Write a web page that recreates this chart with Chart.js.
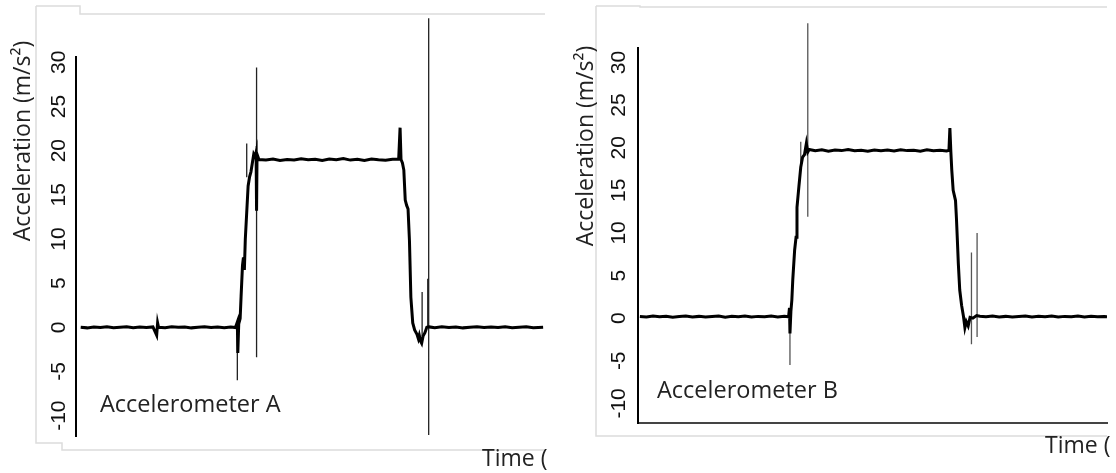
<!DOCTYPE html>
<html>
<head>
<meta charset="utf-8">
<script src="https://cdn.jsdelivr.net/npm/chart.js@4.4.1/dist/chart.umd.min.js"></script>
<style>
  html, body { margin: 0; padding: 0; background: #fff; }
  #wrap { position: relative; width: 1116px; height: 473px; overflow: hidden; }
  canvas { position: absolute; top: 0; }
  #chartA { left: 0; }
  #chartB { left: 558px; }
</style>
</head>
<body>
<div id="wrap">
  <canvas id="chartA" width="558" height="473"></canvas>
  <canvas id="chartB" width="558" height="473"></canvas>
</div>
<script>
"use strict";

// y axis tick labels (m/s^2)
var yTicks = [-10, -5, 0, 5, 10, 15, 20, 25, 30];

// Accelerometer A - main trace
var timeA = [
    0.10, 0.24, 0.38, 0.52, 0.66, 0.80, 0.94, 1.08, 1.22, 1.36, 1.50, 1.64, 1.72, 1.74, 1.76,
    1.90, 2.04, 2.18, 2.32, 2.46, 2.60, 2.74, 2.88, 3.02, 3.16, 3.30, 3.40, 3.44, 3.45, 3.47,
    3.50, 3.52, 3.55, 3.57, 3.59, 3.61, 3.64, 3.67, 3.70, 3.73, 3.76, 3.79, 3.82, 3.84, 3.85, 3.86, 3.90,
    4.05, 4.20, 4.35, 4.50, 4.65, 4.80, 4.95, 5.10, 5.25, 5.40, 5.55, 5.70, 5.85, 6.00, 6.15, 6.30,
    6.45, 6.60, 6.75, 6.88, 6.91, 6.93, 6.96, 6.99, 7.02, 7.05, 7.08, 7.11, 7.14, 7.18, 7.22, 7.27,
    7.30, 7.32, 7.35, 7.37, 7.40, 7.44, 7.48, 7.53,
    7.65, 7.80, 7.95, 8.10, 8.25, 8.40, 8.55, 8.70, 8.85, 9.00, 9.15, 9.30, 9.45, 9.60, 9.75, 9.96
];
var accelA = [
    0.02, -0.06, 0.05, -0.02, 0.07, -0.04, 0.01, 0.06, -0.05, 0.03, -0.01, 0.05, -0.9, 0.5, 0.0,
    -0.04, 0.06, 0.0, 0.04, -0.06, 0.02, 0.07, -0.03, 0.04, -0.05, 0.05, -0.02, 0.6, -2.9, 0.4,
    1.0, 3.5, 7.0, 7.9, 6.5, 10.0, 13.0, 16.0, 17.0, 17.6, 18.6, 19.6, 19.3, 19.8, 13.2, 19.6, 19.0,
    18.95, 19.05, 18.9, 19.0, 18.95, 19.08, 18.97, 19.03, 18.9, 19.05, 18.98, 19.1, 18.93, 19.02, 18.88, 19.05,
    18.97, 18.92, 19.03, 19.06, 22.6, 19.0, 18.6, 17.8, 14.4, 13.8, 13.4, 9.8, 3.4, 0.5, -0.3, -0.8,
    -1.3, -0.9, -1.6, -1.8, -1.0, -0.6, 0.0, 0.05,
    -0.04, 0.06, -0.02, 0.04, -0.06, 0.02, 0.07, -0.03, 0.05, -0.02, 0.06, -0.05, 0.02, 0.07, -0.04, 0.02
];

// Accelerometer A - thin transient spikes (null breaks the line)
var spikeTimeA = [3.44, 3.44, 3.44, 3.64, 3.64, 3.64, 3.85, 3.85, 3.85, 7.38, 7.38, 7.38, 7.50, 7.50, 7.50, 7.52, 7.52];
var spikeA = [0, -6.0, null, 17.0, 20.8, null, 29.4, -3.4, null, 4.0, -1.0, null, 5.5, 0, null, 35.0, -12.2];

// Accelerometer B - main trace
var timeB = [
    0.04, 0.18, 0.32, 0.46, 0.60, 0.74, 0.88, 1.02, 1.16, 1.30, 1.44, 1.58, 1.72, 1.86, 2.00, 2.14,
    2.28, 2.42, 2.56, 2.70, 2.84, 2.98, 3.12, 3.21, 3.23, 3.24, 3.26,
    3.28, 3.30, 3.34, 3.37, 3.39, 3.43, 3.47, 3.51, 3.55, 3.59, 3.62, 3.65,
    3.78, 3.92, 4.06, 4.20, 4.34, 4.48, 4.62, 4.76, 4.90, 5.04, 5.18, 5.32, 5.46, 5.60, 5.74, 5.88,
    6.02, 6.16, 6.30, 6.44, 6.58, 6.63, 6.65, 6.67, 6.69, 6.72, 6.77, 6.79, 6.81, 6.83, 6.86, 6.90,
    6.94, 6.97, 7.00, 7.04, 7.08, 7.14, 7.22, 7.29,
    7.42, 7.56, 7.70, 7.84, 7.98, 8.12, 8.26, 8.40, 8.54, 8.68, 8.82, 8.96, 9.10, 9.24, 9.38, 9.52,
    9.66, 9.80, 9.94, 10.0
];
var accelB = [
    0.2, 0.14, 0.25, 0.17, 0.22, 0.12, 0.2, 0.26, 0.15, 0.21, 0.13, 0.19, 0.24, 0.12, 0.22, 0.16,
    0.25, 0.14, 0.21, 0.17, 0.24, 0.15, 0.22, 0.16, 1.2, -1.8, 0.8,
    2.1, 4.5, 8.0, 9.5, 13.0, 15.4, 17.7, 18.9, 19.2, 20.5, 19.5, 19.8,
    19.65, 19.75, 19.6, 19.72, 19.66, 19.78, 19.64, 19.7, 19.6, 19.74, 19.65, 19.72, 19.62, 19.76, 19.66, 19.7,
    19.6, 19.75, 19.64, 19.7, 19.62, 19.7, 22.3, 19.6, 17.4, 15.0, 13.8, 11.7, 9.1, 6.4, 3.3, 1.5,
    0.2, -1.1, -0.4, -0.9, 0.1, 0.0, 0.3, 0.22,
    0.16, 0.24, 0.15, 0.21, 0.13, 0.2, 0.26, 0.14, 0.22, 0.17, 0.24, 0.13, 0.21, 0.18, 0.25, 0.15,
    0.22, 0.16, 0.2, 0.18
];

// Accelerometer B - thin transient spikes
var spikeTimeB = [3.24, 3.24, 3.24, 3.47, 3.47, 3.47, 3.62, 3.62, 3.62, 7.11, 7.11, 7.11, 7.23, 7.23];
var spikeB = [0, -5.5, null, 17.5, 20.7, null, 34.6, 11.9, null, 7.7, -3.05, null, 10.0, -2.2];

function toPoints(xs, ys) {
    return xs.map(function (x, i) { return { x: x, y: ys[i] }; });
}

// draws the scan frame, axis titles and panel label
var decorPlugin = {
    id: "decor",
    afterDraw: function (chart, args, o) {
        var ctx = chart.ctx;
        ctx.save();
        ctx.strokeStyle = "#dcdcdc";
        ctx.lineWidth = 1.5;
        o.frame.forEach(function (path) {
            ctx.beginPath();
            path.forEach(function (p, i) {
                if (i === 0) ctx.moveTo(p[0], p[1]); else ctx.lineTo(p[0], p[1]);
            });
            ctx.stroke();
        });

        ctx.fillStyle = "#222";
        ctx.font = "23px 'Open Sans'";
        ctx.save();
        ctx.translate(o.titleX, o.titleY);
        ctx.rotate(-Math.PI / 2);
        ctx.textAlign = "center";
        ctx.textBaseline = "middle";
        ctx.fillText(o.title, 0, 0);
        ctx.restore();

        ctx.textAlign = "left";
        ctx.textBaseline = "alphabetic";
        ctx.font = "23.5px 'Open Sans'";
        ctx.fillText(o.label, o.labelX, o.labelY);
        ctx.font = "23px 'Open Sans'";
        ctx.fillText("Time (", o.timeX, o.timeY);
        ctx.restore();
    }
};

function makeChart(id, cfg) {
    return new Chart(document.getElementById(id), {
        type: "line",
        data: {
            datasets: [{
                data: toPoints(cfg.time, cfg.accel),
                borderColor: "#000",
                borderWidth: 3,
                pointRadius: 0,
                tension: 0
            }, {
                data: toPoints(cfg.spikeTime, cfg.spikes),
                borderColor: cfg.spikeColor,
                borderWidth: 1.3,
                pointRadius: 0,
                tension: 0,
                spanGaps: false,
                clip: false
            }]
        },
        options: {
            responsive: false,
            animation: false,
            layout: { padding: cfg.padding },
            plugins: {
                legend: { display: false },
                tooltip: { enabled: false },
                decor: cfg.decor
            },
            scales: {
                x: {
                    type: "linear",
                    min: 0,
                    max: 10,
                    grid: { display: false, drawTicks: false },
                    ticks: { display: false },
                    border: { display: cfg.xBorder, color: "#444", width: 2 },
                    afterFit: function (s) { s.height = 0; }
                },
                y: {
                    min: cfg.yMin,
                    max: cfg.yMax,
                    grid: { display: false, drawTicks: false },
                    border: { display: true, color: "#000", width: 2 },
                    afterBuildTicks: function (s) {
                        s.ticks = yTicks.map(function (v) { return { value: v }; });
                    },
                    ticks: {
                        minRotation: 90,
                        maxRotation: 90,
                        crossAlign: "center",
                        padding: cfg.tickPad,
                        color: "#111",
                        font: { family: "'Liberation Sans', Arial", size: 21 }
                    },
                    afterFit: function (s) { s.width = cfg.axisWidth; }
                }
            }
        },
        plugins: [decorPlugin]
    });
}

makeChart("chartA", {
    time: timeA, accel: accelA, spikeTime: spikeTimeA, spikes: spikeA,
    spikeColor: "#222",
    padding: { left: 0, top: 57, right: 13, bottom: 37 },
    axisWidth: 76, tickPad: 2,
    yMin: -12.3, yMax: 30.6,
    xBorder: false,
    decor: {
        frame: [
            [[36, 6], [80, 6], [80, 14], [545, 14]],
            [[36, 6], [36, 443], [62, 443], [62, 450], [545, 450]]
        ],
        title: "Acceleration (m/s²)", titleX: 23, titleY: 141,
        label: "Accelerometer A", labelX: 100, labelY: 412,
        timeX: 482, timeY: 466
    }
});

makeChart("chartB", {
    time: timeB, accel: accelB, spikeTime: spikeTimeB, spikes: spikeB,
    spikeColor: "#555",
    padding: { left: 0, top: 48, right: 9, bottom: 50 },
    axisWidth: 80, tickPad: 4,
    yMin: -12.3, yMax: 31.7,
    xBorder: true,
    decor: {
        frame: [
            [[38, 6], [82, 6], [82, 7], [549, 7]],
            [[38, 6], [38, 436], [549, 436]]
        ],
        title: "Acceleration (m/s²)", titleX: 28, titleY: 146,
        label: "Accelerometer B", labelX: 99, labelY: 398,
        timeX: 487, timeY: 453
    }
});
</script>
</body>
</html>
